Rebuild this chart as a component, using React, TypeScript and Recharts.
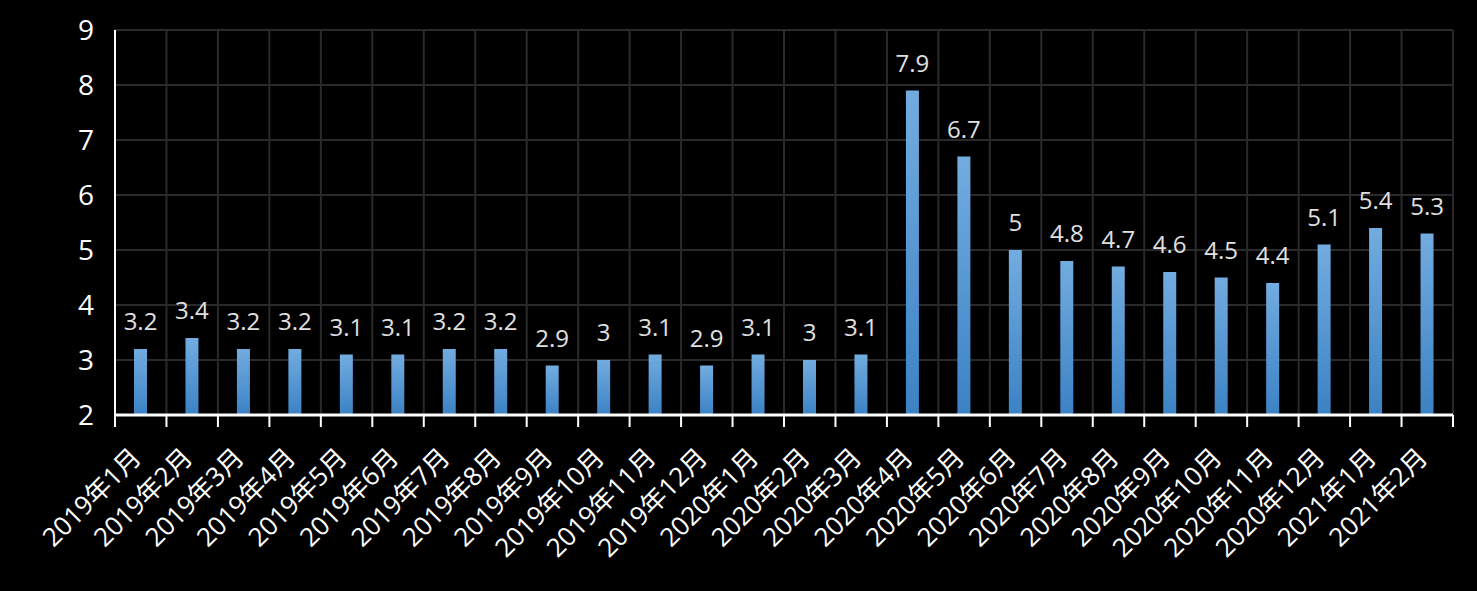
import React from 'react';
import { BarChart, Bar, XAxis, YAxis, CartesianGrid, LabelList } from 'recharts';

const months = [
  '2019年1月', '2019年2月', '2019年3月', '2019年4月', '2019年5月', '2019年6月',
  '2019年7月', '2019年8月', '2019年9月', '2019年10月', '2019年11月', '2019年12月',
  '2020年1月', '2020年2月', '2020年3月', '2020年4月', '2020年5月', '2020年6月',
  '2020年7月', '2020年8月', '2020年9月', '2020年10月', '2020年11月', '2020年12月',
  '2021年1月', '2021年2月',
];
const rates = [
  3.2, 3.4, 3.2, 3.2, 3.1, 3.1, 3.2, 3.2, 2.9, 3, 3.1, 2.9,
  3.1, 3, 3.1, 7.9, 6.7, 5, 4.8, 4.7, 4.6, 4.5, 4.4, 5.1,
  5.4, 5.3,
];
const yTicks = [2, 3, 4, 5, 6, 7, 8, 9];

const data = months.map((m, i) => ({ month: m, rate: rates[i] }));

const W = 1477;
const H = 591;
const M = { top: 30, right: 24, bottom: 0, left: 0 };
const Y_W = 115;
const X_H = 176;
const FONT = '"Open Sans", "Noto Sans CJK SC", sans-serif';
const halfBand = (W - M.left - M.right - Y_W) / months.length / 2;

const MonthTick = (props: any) => {
  const { x, y, payload, index } = props;
  const last = index === months.length - 1;
  const tx = x + 2;
  const ty = y + 36;
  return (
    <g>
      <line x1={x - halfBand} x2={x - halfBand} y1={y - 8} y2={y + 4} stroke="#fff" strokeWidth={2} />
      {last && <line x1={x + halfBand} x2={x + halfBand} y1={y - 8} y2={y + 4} stroke="#fff" strokeWidth={2} />}
      <text
        x={tx}
        y={ty}
        textAnchor="end"
        fill="#fff"
        fontSize={26}
        fontFamily={FONT}
        transform={`rotate(-45 ${tx} ${ty})`}
      >
        {payload.value}
      </text>
    </g>
  );
};

export default function App() {
  return (
    <div style={{ position: 'absolute', left: 0, top: 0, width: W, height: H, background: '#000' }}>
      <BarChart width={W} height={H} data={data} margin={M} barSize={13}>
        <defs>
          <linearGradient id="barFill" x1="0" y1="0" x2="0" y2="1">
            <stop offset="0%" stopColor="#72ace0" />
            <stop offset="100%" stopColor="#3b82c4" />
          </linearGradient>
        </defs>
        <CartesianGrid
          stroke="#2a2a2a"
          strokeWidth={2}
          verticalCoordinatesGenerator={({ offset }: any) =>
            months.map((_, i) => offset.left + ((i + 1) * offset.width) / months.length)
          }
        />
        <XAxis
          dataKey="month"
          interval={0}
          height={X_H}
          tickLine={false}
          axisLine={{ stroke: '#fff', strokeWidth: 3 }}
          tick={<MonthTick />}
        />
        <YAxis
          domain={[2, 9]}
          ticks={yTicks}
          width={Y_W}
          tickLine={false}
          tickSize={0}
          tickMargin={21}
          axisLine={{ stroke: '#fff', strokeWidth: 2 }}
          tick={{ fill: '#fff', fontSize: 28, fontFamily: FONT }}
        />
        <Bar dataKey="rate" fill="url(#barFill)" isAnimationActive={false}>
          <LabelList
            dataKey="rate"
            position="top"
            offset={19}
            fill="#e0e0e0"
            fontSize={24}
            fontFamily={FONT}
          />
        </Bar>
      </BarChart>
    </div>
  );
}
